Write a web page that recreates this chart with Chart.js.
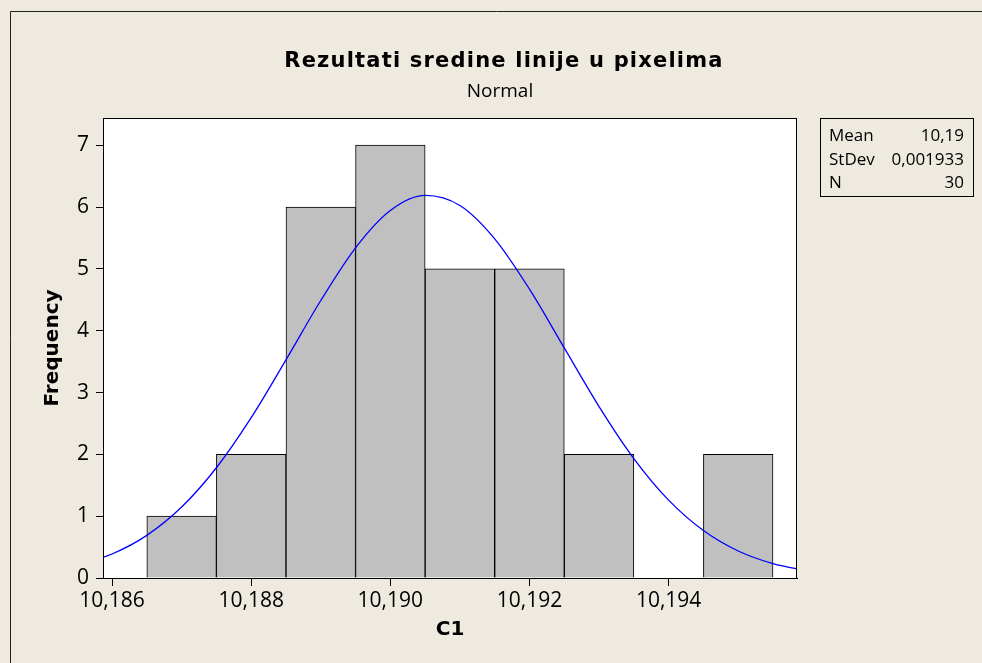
<!DOCTYPE html>
<html>
<head>
<meta charset="utf-8">
<title>Rezultati sredine linije u pixelima</title>
<script src="https://cdn.jsdelivr.net/npm/chart.js@4.4.1/dist/chart.umd.min.js"></script>
<style>
  html, body { margin: 0; padding: 0; background: #eeeae0; overflow: hidden; }
  #wrap { position: relative; width: 982px; height: 663px; }
</style>
</head>
<body>
<div id="wrap"><canvas id="histChart" width="982" height="663"></canvas></div>
<script>
'use strict';

// histogram bins (midpoints) and frequencies
var binCenters = [10.187, 10.188, 10.189, 10.190, 10.191, 10.192, 10.193, 10.194, 10.195];
var counts = [1, 2, 6, 7, 5, 5, 2, 0, 2];

// fitted normal curve, sampled every 0.0005
var curveX = [10.1855, 10.1860, 10.1865, 10.1870, 10.1875, 10.1880, 10.1885, 10.1890,
  10.1895, 10.1900, 10.1905, 10.1910, 10.1915, 10.1920, 10.1925, 10.1930,
  10.1935, 10.1940, 10.1945, 10.1950, 10.1955, 10.1960];
var curveY = [0.204, 0.388, 0.689, 1.147, 1.783, 2.593, 3.528, 4.488,
  5.341, 5.944, 6.188, 6.025, 5.486, 4.672, 3.721, 2.773,
  1.932, 1.259, 0.767, 0.437, 0.233, 0.116];

var xTicks = [10.186, 10.188, 10.190, 10.192, 10.194];
var yTicks = [0, 1, 2, 3, 4, 5, 6, 7];

var statLabels = ['Mean', 'StDev', 'N'];
var statValues = ['10,19', '0,001933', '30'];

var BG = '#eeeae0';
var TXT = '#000';
var regular = 'Open Sans';
var heavy = 'DejaVu Sans';

var decorations = {
  id: 'decorations',
  beforeDraw: function(chart) {
    var ctx = chart.ctx;
    var a = chart.chartArea;
    ctx.save();
    ctx.fillStyle = BG;
    ctx.fillRect(0, 0, chart.width, chart.height);
    // outer frame
    ctx.strokeStyle = '#222';
    ctx.lineWidth = 1;
    ctx.beginPath();
    ctx.moveTo(10.5, chart.height);
    ctx.lineTo(10.5, 11.5);
    ctx.lineTo(chart.width, 11.5);
    ctx.stroke();
    ctx.fillStyle = '#fff';
    ctx.fillRect(a.left, a.top, a.right - a.left, a.bottom - a.top);
    ctx.restore();
  },
  afterDraw: function(chart) {
    var ctx = chart.ctx;
    var a = chart.chartArea;
    ctx.save();
    ctx.strokeStyle = '#000';
    ctx.lineWidth = 1;
    ctx.strokeRect(a.left + 0.5, a.top + 0.5, a.right - a.left - 1, a.bottom - a.top);

    // titles
    ctx.fillStyle = TXT;
    ctx.textAlign = 'center';
    ctx.textBaseline = 'alphabetic';
    ctx.font = 'bold 21px "' + heavy + '"';
    ctx.letterSpacing = '1.2px';
    ctx.fillText('Rezultati sredine linije u pixelima', 504, 67);
    ctx.letterSpacing = '0px';
    ctx.font = '19px "' + regular + '"';
    ctx.fillText('Normal', 500, 97);

    // stats box
    ctx.strokeRect(820.5, 118.5, 153, 78);
    ctx.font = '17px "' + regular + '"';
    for (var i = 0; i < statLabels.length; i++) {
      var yy = 141 + i * 23.5;
      ctx.textAlign = 'left';
      ctx.fillText(statLabels[i], 829, yy);
      ctx.textAlign = 'right';
      ctx.fillText(statValues[i], 964, yy);
    }
    ctx.restore();
  }
};

var ctx = document.getElementById('histChart').getContext('2d');

var chart = new Chart(ctx, {
  type: 'bar',
  data: {
    datasets: [
      {
        type: 'line',
        data: curveX.map(function(x, i) { return { x: x, y: curveY[i] }; }),
        borderColor: '#0000ff',
        borderWidth: 1.3,
        pointRadius: 0,
        fill: false,
        cubicInterpolationMode: 'monotone',
        order: 1
      },
      {
        type: 'bar',
        data: binCenters.map(function(c, i) { return { x: c, y: counts[i] }; }),
        backgroundColor: '#c0c0c0',
        borderColor: '#000',
        borderWidth: 1,
        barPercentage: 1,
        categoryPercentage: 1,
        order: 2
      }
    ]
  },
  options: {
    responsive: false,
    animation: false,
    layout: { padding: { left: 0, top: 118, right: 185, bottom: 0 } },
    plugins: {
      legend: { display: false },
      tooltip: { enabled: false }
    },
    scales: {
      x: {
        type: 'linear',
        min: 10.18587,
        max: 10.195845,
        offset: false,
        afterBuildTicks: function(s) { s.ticks = xTicks.map(function(v) { return { value: v }; }); },
        afterFit: function(s) { s.height = 85; },
        grid: { drawOnChartArea: false, tickLength: 8, color: '#000', offset: false },
        border: { color: '#000' },
        ticks: {
          color: TXT,
          font: { family: regular, size: 21 },
          padding: 2,
          maxRotation: 0,
          autoSkip: false,
          callback: function(v) { return v.toFixed(3).replace('.', ','); }
        },
        title: {
          display: true,
          text: 'C1',
          color: TXT,
          font: { family: heavy, size: 20, weight: 'bold' },
          padding: { top: 0, bottom: 21 }
        }
      },
      y: {
        min: 0,
        max: 7.44,
        afterBuildTicks: function(s) { s.ticks = yTicks.map(function(v) { return { value: v }; }); },
        afterFit: function(s) { s.width = 103; },
        grid: { drawOnChartArea: false, tickLength: 7, color: '#000' },
        border: { color: '#000' },
        ticks: {
          color: TXT,
          font: { family: regular, size: 21 },
          padding: 7
        },
        title: {
          display: true,
          text: 'Frequency',
          color: TXT,
          font: { family: heavy, size: 20, weight: 'bold' },
          padding: { top: 41, bottom: 0 }
        }
      }
    }
  },
  plugins: [decorations]
});
</script>
</body>
</html>
